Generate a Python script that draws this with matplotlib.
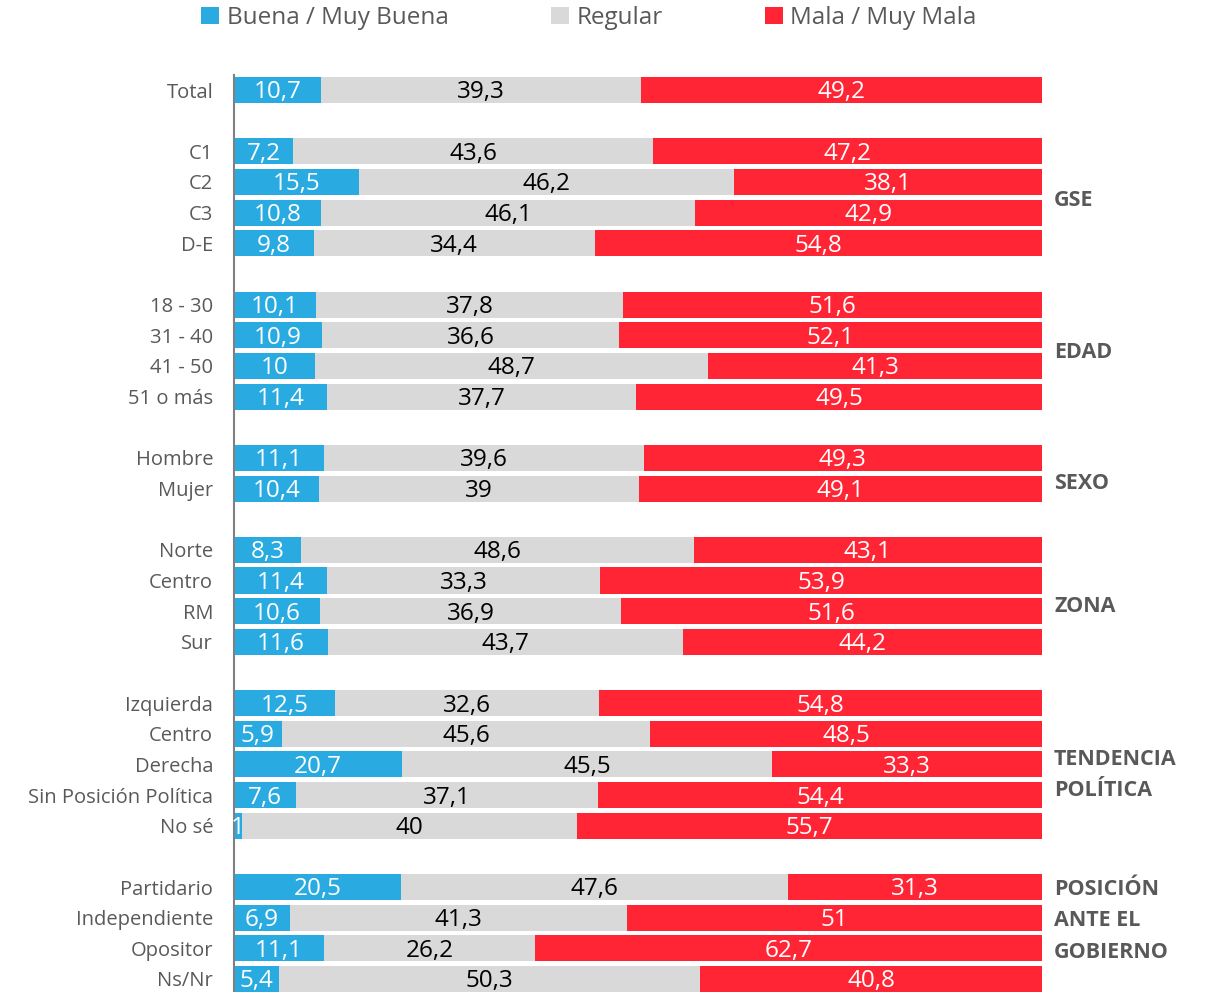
import matplotlib.pyplot as plt

plt.rcParams['font.family'] = ['Open Sans', 'DejaVu Sans']

labels = ["Total", "C1", "C2", "C3", "D-E", "18 - 30", "31 - 40", "41 - 50", "51 o más",
          "Hombre", "Mujer", "Norte", "Centro", "RM", "Sur",
          "Izquierda", "Centro", "Derecha", "Sin Posición Política", "No sé",
          "Partidario", "Independiente", "Opositor", "Ns/Nr"]
rows = [0, 2, 3, 4, 5, 7, 8, 9, 10, 12, 13, 15, 16, 17, 18, 20, 21, 22, 23, 24, 26, 27, 28, 29]

buena = [10.7, 7.2, 15.5, 10.8, 9.8, 10.1, 10.9, 10, 11.4, 11.1, 10.4, 8.3, 11.4, 10.6, 11.6,
         12.5, 5.9, 20.7, 7.6, 1, 20.5, 6.9, 11.1, 5.4]
regular = [39.3, 43.6, 46.2, 46.1, 34.4, 37.8, 36.6, 48.7, 37.7, 39.6, 39, 48.6, 33.3, 36.9, 43.7,
           32.6, 45.6, 45.5, 37.1, 40, 47.6, 41.3, 26.2, 50.3]
mala = [49.2, 47.2, 38.1, 42.9, 54.8, 51.6, 52.1, 41.3, 49.5, 49.3, 49.1, 43.1, 53.9, 51.6, 44.2,
        54.8, 48.5, 33.3, 54.4, 55.7, 31.3, 51, 62.7, 40.8]

groups = ["GSE", "EDAD", "SEXO", "ZONA", "TENDENCIA\nPOLÍTICA", "POSICIÓN\nANTE EL\nGOBIERNO"]
group_y = [3.6, 8.55, 12.85, 16.85, 22.35, 27.1]

c_blue, c_gray, c_red = "#29ABE2", "#D9D9D9", "#FF2535"

# 100% stacked: scale each row to its total
tot = [b + r + m for b, r, m in zip(buena, regular, mala)]
pb = [100 * b / t for b, t in zip(buena, tot)]
pr = [100 * r / t for r, t in zip(regular, tot)]
pm = [100 * m / t for m, t in zip(mala, tot)]
left3 = [b + r for b, r in zip(pb, pr)]

fig = plt.figure(figsize=(12.09, 9.92), dpi=100)
ax = fig.add_axes([234 / 1209, 0, (1042 - 234) / 1209, (992 - 74.7) / 992])

h = 0.85
ax.barh(rows, pb, height=h, color=c_blue, label="Buena / Muy Buena")
ax.barh(rows, pr, left=pb, height=h, color=c_gray, label="Regular")
ax.barh(rows, pm, left=left3, height=h, color=c_red, label="Mala / Muy Mala")

def fmt(v):
    return ("%g" % v).replace(".", ",")

dy = 0.08
for i, y in enumerate(rows):
    ax.text(pb[i] / 2, y + dy, fmt(buena[i]), ha="center", va="center", color="white", fontsize=17.5)
    ax.text(pb[i] + pr[i] / 2, y + dy, fmt(regular[i]), ha="center", va="center", color="black", fontsize=17.5)
    ax.text(left3[i] + pm[i] / 2, y + dy, fmt(mala[i]), ha="center", va="center", color="white", fontsize=17.5)

for g, gy in zip(groups, group_y):
    ax.text(101.5, gy, g, ha="left", va="center", fontsize=15.5, fontweight="bold",
            color="#595959", linespacing=1.65)

ax.set_xlim(0, 100)
ax.set_ylim((992 - 90) / 30.655, -0.5)
ax.set_yticks(rows)
ax.set_yticklabels(labels, fontsize=14.5, color="#595959")
ax.tick_params(axis="y", length=0, pad=15)
ax.set_xticks([])
for s in ["top", "right", "bottom"]:
    ax.spines[s].set_visible(False)
ax.spines["left"].set_color("#808080")
ax.spines["left"].set_linewidth(1.5)

fig.legend(loc="upper center", bbox_to_anchor=(0.487, 1.016), ncol=3, frameon=False,
           fontsize=17.5, handlelength=0.75, handleheight=0.75, handletextpad=0.3,
           columnspacing=4.2, labelcolor="#595959")

plt.savefig("out.png", dpi=100)
plt.close()
